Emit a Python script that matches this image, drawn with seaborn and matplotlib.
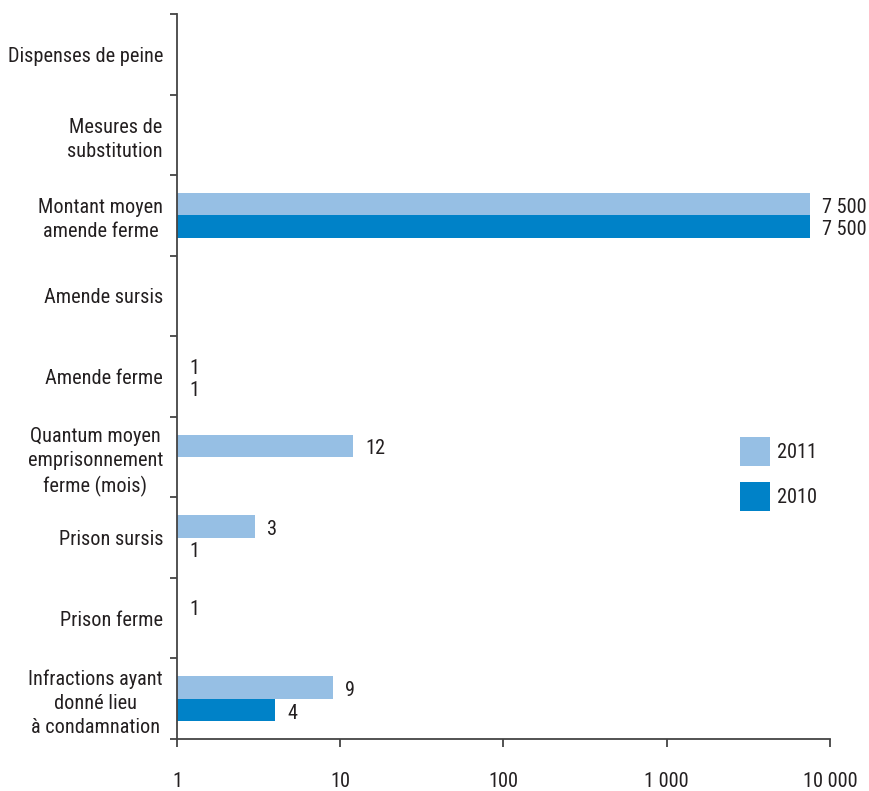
import numpy as np
import pandas as pd
import matplotlib
matplotlib.use("Agg")
import matplotlib.pyplot as plt
import seaborn as sns
from matplotlib.ticker import FixedLocator, NullFormatter

categories = [
    "Dispenses de peine",
    "Mesures de\nsubstitution",
    "Montant moyen\namende ferme",
    "Amende sursis",
    "Amende ferme",
    "Quantum moyen\nemprisonnement\nferme (mois)",
    "Prison sursis",
    "Prison ferme",
    "Infractions ayant\ndonné lieu\nà condamnation",
]
values_2011 = [np.nan, np.nan, 7500, np.nan, 1, 12, 3, 1, 9]
values_2010 = [np.nan, np.nan, 7500, np.nan, 1, np.nan, 1, np.nan, 4]
years = ["2011", "2010"]
colors = ["#96BFE4", "#0082C8"]
xticks = [1, 10, 100, 1000, 10000]
xtick_labels = ["1", "10", "100", "1 000", "10 000"]

sns.set_style("white")
plt.rcParams["font.family"] = ["Roboto Condensed", "Liberation Sans Narrow", "Roboto", "DejaVu Sans"]
text_color = "#231F20"
fs = 14.6

df = pd.DataFrame({
    "cat": categories * 2,
    "val": values_2011 + values_2010,
    "year": [years[0]] * len(categories) + [years[1]] * len(categories),
})

fig = plt.figure(figsize=(8.7, 7.91), dpi=100)
ax = fig.add_axes([177 / 870, 1 - 739 / 791, (830 - 177) / 870, (739 - 14) / 791])

sns.barplot(data=df, y="cat", x="val", hue="year", hue_order=years,
            order=categories, palette=colors, orient="h", width=0.56,
            saturation=1, linewidth=0, ax=ax, legend=True)

ax.set_xscale("log")
ax.set_xlim(1, 10000)
ax.set_ylim(len(categories) - 0.5, -0.5)
ax.set_xlabel("")
ax.set_ylabel("")

# x axis
ax.xaxis.set_major_locator(FixedLocator(xticks))
ax.set_xticklabels(xtick_labels, fontsize=fs, color=text_color)
ax.xaxis.set_minor_locator(FixedLocator([]))
ax.tick_params(axis="x", which="major", length=6, width=1.3, color="#444444",
               pad=17.5, direction="out", bottom=True)

# y axis
ax.set_yticks(range(len(categories)))
ax.set_yticklabels(categories, fontsize=fs, color=text_color,
                   multialignment="center", linespacing=1.33)
ax.tick_params(axis="y", which="major", length=0, pad=10)
ax.yaxis.set_minor_locator(FixedLocator(np.arange(-0.5, len(categories), 1.0)))
ax.yaxis.set_minor_formatter(NullFormatter())
ax.tick_params(axis="y", which="minor", length=5, width=1.3, color="#444444",
               direction="out", left=True)

for side in ["top", "right"]:
    ax.spines[side].set_visible(False)
for side in ["left", "bottom"]:
    ax.spines[side].set_color("#444444")
    ax.spines[side].set_linewidth(1.3)

def fmt(v):
    return f"{int(v):,}".replace(",", " ")

offsets = [-0.14, 0.14]
for series, off in zip([values_2011, values_2010], offsets):
    for i, v in enumerate(series):
        if np.isnan(v):
            continue
        ax.annotate(fmt(v), xy=(v, i + off), xytext=(12, -3),
                    textcoords="offset pixels", va="center", ha="left",
                    fontsize=fs, color=text_color)

leg = ax.legend(loc="upper left", bbox_to_anchor=(0.862, 0.4166), frameon=False,
                fontsize=fs, handlelength=1.5, handleheight=1.8,
                handletextpad=0.35, labelspacing=0.8, borderaxespad=0, borderpad=0)
for t in leg.get_texts():
    t.set_color(text_color)

fig.savefig("out.png", dpi=100)
